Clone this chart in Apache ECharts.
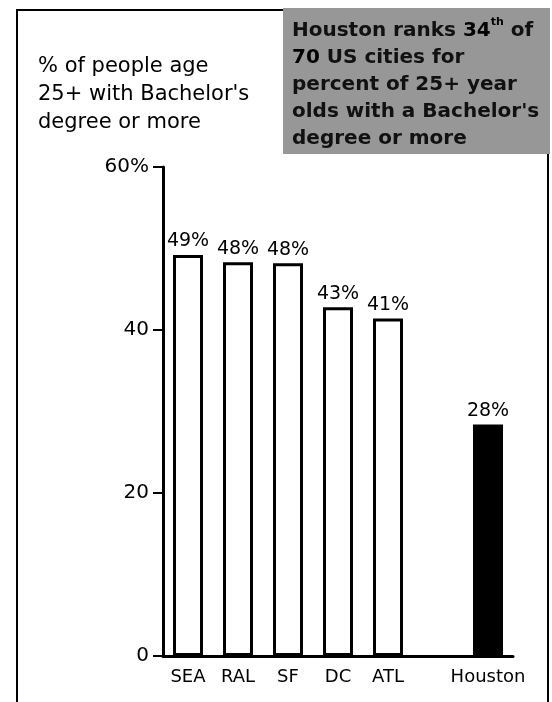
<!DOCTYPE html>
<html>
<head>
<meta charset="utf-8">
<script src="https://cdn.jsdelivr.net/npm/echarts@6/dist/echarts.min.js"></script>
<style>
  html, body { margin: 0; padding: 0; background: #fff; }
  #chart { width: 552px; height: 702px; }
</style>
</head>
<body>
<div id="chart"></div>
<script>
// cities, with an empty slot before Houston
const cities = ["SEA", "RAL", "SF", "DC", "ATL", "", "Houston"];
// % of people age 25+ with bachelor's degree or more
const shares = [49.2, 48.3, 48.2, 42.8, 41.4, null, 28.4];
const yTicks = [0, 20, 40, 60];

const FONT = "DejaVu Sans";
const chart = echarts.init(document.getElementById("chart"));

const option = {
  backgroundColor: "#fff",
  animation: false,
  title: {
    text: "% of people age\n25+ with Bachelor's\ndegree or more",
    left: 33,
    top: 48,
    textStyle: {
      fontFamily: FONT,
      fontSize: 21,
      fontWeight: "normal",
      color: "#000",
      lineHeight: 28
    }
  },
  grid: { left: 163, right: 39, top: 167, bottom: 46 },
  xAxis: {
    type: "category",
    data: cities,
    axisLine: { lineStyle: { color: "#000", width: 3 } },
    axisTick: { show: false },
    axisLabel: {
      interval: 0,
      margin: 12,
      color: "#000",
      fontFamily: FONT,
      fontSize: 18
    }
  },
  yAxis: {
    type: "value",
    min: yTicks[0],
    max: yTicks[yTicks.length - 1],
    interval: 20,
    splitLine: { show: false },
    axisLine: { show: true, lineStyle: { color: "#000", width: 3 } },
    axisTick: { show: true, length: 10, lineStyle: { color: "#000", width: 2 } },
    axisLabel: {
      margin: 14,
      color: "#000",
      fontFamily: FONT,
      fontSize: 20,
      formatter: (v) => (v === 60 ? v + "%" : String(v))
    }
  },
  series: [
    {
      type: "bar",
      data: shares,
      barWidth: 30,
      itemStyle: {
        color: (p) => (p.name === "Houston" ? "#000" : "#fff"),
        borderColor: "#000",
        borderWidth: 3
      },
      label: {
        show: true,
        position: "top",
        distance: 4,
        color: "#000",
        fontFamily: FONT,
        fontSize: 19,
        formatter: (p) => Math.round(p.value) + "%"
      }
    }
  ],
  graphic: [
    // frame
    { type: "line", shape: { x1: 17, y1: 10, x2: 17, y2: 702 }, style: { stroke: "#000", lineWidth: 2 } },
    { type: "line", shape: { x1: 16, y1: 10, x2: 284, y2: 10 }, style: { stroke: "#000", lineWidth: 2 } },
    { type: "line", shape: { x1: 548, y1: 150, x2: 548, y2: 702 }, style: { stroke: "#000", lineWidth: 2 } },
    // grey callout box
    { type: "rect", shape: { x: 283, y: 8, width: 267, height: 146 }, style: { fill: "#979797" } },
    {
      type: "text",
      left: 292,
      top: 17,
      style: {
        text: "Houston ranks {b|34}{s|th} of\n{b|70} US cities for\npercent of 25+ year\nolds with a Bachelor's\ndegree or more",
        fontFamily: FONT,
        fontSize: 20,
        fontWeight: "bold",
        fill: "#111",
        lineHeight: 27,
        rich: {
          b: { fontFamily: FONT, fontSize: 20, fontWeight: 900, fill: "#000", lineHeight: 27 },
          s: { fontFamily: FONT, fontSize: 11, fontWeight: "bold", fill: "#000", verticalAlign: "top", lineHeight: 27 }
        }
      }
    }
  ]
};

chart.setOption(option);
</script>
</body>
</html>
